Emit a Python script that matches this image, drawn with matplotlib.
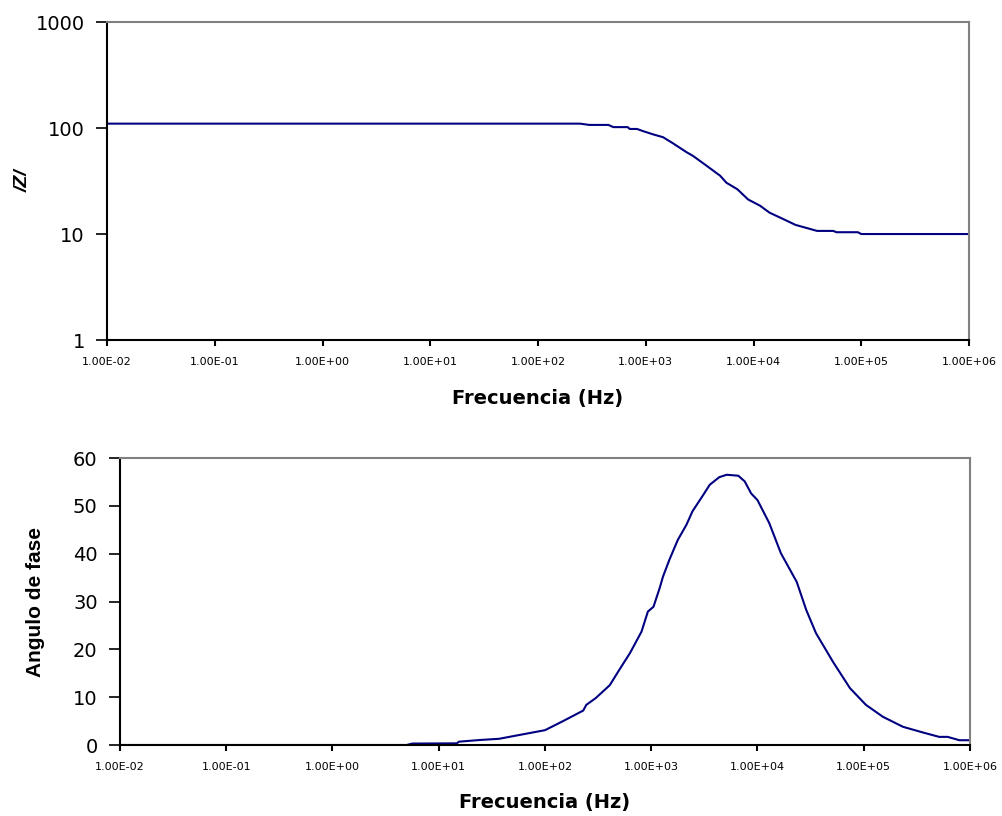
import numpy as np
import matplotlib
matplotlib.use("Agg")
import matplotlib.pyplot as plt
from matplotlib.ticker import FixedLocator, FuncFormatter, NullLocator

# modulo de la impedancia
freq_z = [0.01, 245, 300, 450, 500, 680, 710, 830, 930, 1175, 1445, 1780, 2400, 2750,
          3700, 4900, 5600, 7100, 8900, 11500, 14100, 19000, 24500, 38900, 55000,
          58900, 93000, 100000, 1000000]
z_mod = [110, 110, 107, 107, 102, 102, 98, 98, 94, 87, 82, 72, 59, 54.5,
         43.8, 35.5, 30.5, 26.4, 21.2, 18.5, 15.9, 13.8, 12.2, 10.7, 10.7,
         10.4, 10.4, 10.0, 10.0]

# angulo de fase
freq_ph = [0.01, 5.0, 5.6, 14.8, 15.5, 24.5, 37, 57.5, 100, 148, 229, 245, 300, 407,
           500, 630, 810, 930, 1050, 1200, 1290, 1480, 1780, 2140, 2450, 3090,
           3550, 4370, 5130, 6600, 7590, 8710, 10000, 12900, 16600, 23400, 28800,
           35500, 51300, 74100, 104700, 151400, 234400, 363000, 512900, 616600,
           794300, 1000000]
phase = [0, 0, 0.3, 0.35, 0.7, 1.05, 1.3, 2.1, 3.1, 5.0, 7.2, 8.4, 9.8, 12.5,
         15.7, 19.2, 23.7, 27.9, 28.9, 32.8, 35.2, 38.7, 42.9, 46.0, 48.9, 52.3,
         54.4, 56.0, 56.5, 56.3, 55.1, 52.6, 51.2, 46.4, 40.1, 34.1, 28.2,
         23.4, 17.4, 11.9, 8.4, 5.9, 3.8, 2.6, 1.7, 1.7, 1.0, 1.0]

xticks = [1e-2, 1e-1, 1e0, 1e1, 1e2, 1e3, 1e4, 1e5, 1e6]
line_color = "#000080"


def sci(v, pos):
    return "{:.2E}".format(v)


def style(ax):
    ax.set_xscale("log")
    ax.set_xlim(1e-2, 1e6)
    ax.xaxis.set_major_locator(FixedLocator(xticks))
    ax.xaxis.set_major_formatter(FuncFormatter(sci))
    ax.xaxis.set_minor_locator(NullLocator())
    for s in ["left", "bottom"]:
        ax.spines[s].set_color("black")
        ax.spines[s].set_linewidth(1.5)
    for s in ["top", "right"]:
        ax.spines[s].set_color("#808080")
        ax.spines[s].set_linewidth(1.5)
    ax.tick_params(axis="x", direction="out", length=4, width=1.5, pad=8,
                   labelsize=8)
    ax.tick_params(axis="y", direction="out", length=8, width=1.2, pad=8,
                   labelsize=14)
    for lab in ax.get_xticklabels() + ax.get_yticklabels():
        lab.set_family("DejaVu Sans")


fig = plt.figure(figsize=(10.03, 8.16), dpi=100)

ax1 = fig.add_axes([0.1067, 0.5833, 0.8594, 0.3897])
ax1.plot(freq_z, z_mod, color=line_color, lw=1.5)
ax1.set_yscale("log")
ax1.set_ylim(1, 1000)
ax1.yaxis.set_major_locator(FixedLocator([1, 10, 100, 1000]))
ax1.yaxis.set_major_formatter(FuncFormatter(lambda v, p: "%d" % v))
ax1.yaxis.set_minor_locator(NullLocator())
style(ax1)
ax1.set_xlabel("Frecuencia (Hz)", family="DejaVu Sans", fontweight="bold",
               fontsize=14, labelpad=16)
ax1.set_ylabel("/Z/", family="Liberation Sans", fontweight="bold",
               style="italic", fontsize=14)
ax1.yaxis.set_label_coords(-0.087, 0.5)

ax2 = fig.add_axes([0.1196, 0.0870, 0.8475, 0.3517])
ax2.plot(freq_ph, phase, color=line_color, lw=1.5)
ax2.set_ylim(0, 60)
ax2.set_yticks([0, 10, 20, 30, 40, 50, 60])
style(ax2)
ax2.set_xlabel("Frecuencia (Hz)", family="DejaVu Sans", fontweight="bold",
               fontsize=14, labelpad=15)
ax2.set_ylabel("Angulo de fase", family="Liberation Sans", fontweight="bold",
               fontsize=15)
ax2.yaxis.set_label_coords(-0.088, 0.5)

fig.savefig("out.png", dpi=100)
